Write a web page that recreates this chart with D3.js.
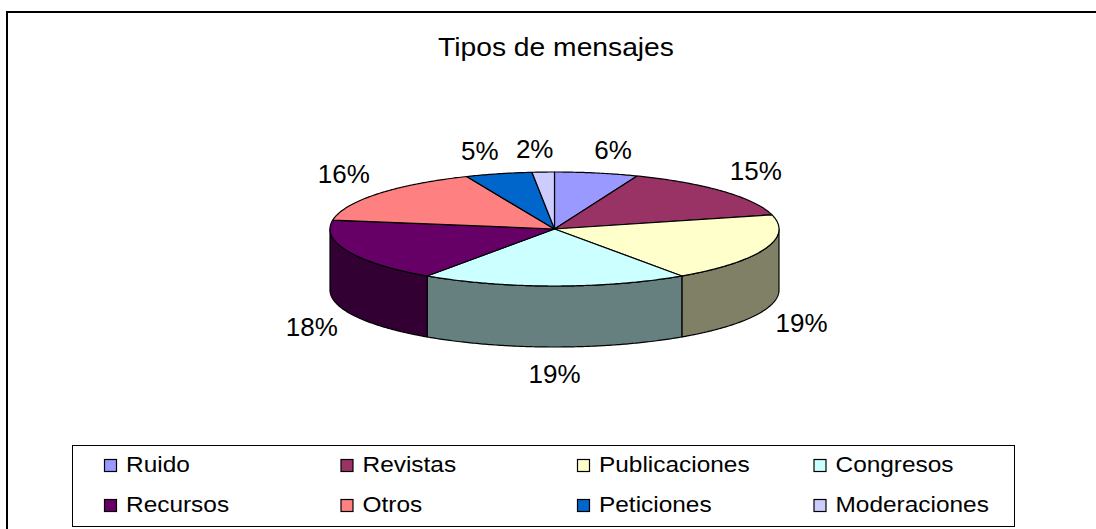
<!DOCTYPE html>
<html>
<head>
<meta charset="utf-8">
<script src="https://cdn.jsdelivr.net/npm/d3@7"></script>
<style>
  body { margin: 0; background: #fff; }
  text { font-family: "Liberation Sans", Arial, sans-serif; fill: #000; }
</style>
</head>
<body>
<div id="chart-area"></div>
<script>
// data
const categories = ["Ruido", "Revistas", "Publicaciones", "Congresos",
                    "Recursos", "Otros", "Peticiones", "Moderaciones"];
const values = [6.0, 15.0, 19.4, 19.2, 17.9, 16.1, 4.8, 1.6];
const colors = ["#9999FF", "#993366", "#FFFFCC", "#CCFFFF",
                "#660066", "#FF8080", "#0066CC", "#CCCCFF"];
const title = "Tipos de mensajes";

const width = 1096, height = 529;

// 3d pie geometry
const cx = 554.5, cy = 229, rx = 224.5, ry = 57, depth = 61;

let svg = d3.select("#chart-area")
  .append("svg")
  .attr("width", width)
  .attr("height", height);

svg.append("rect")
  .attr("width", width).attr("height", height)
  .attr("fill", "#fff");

// outer chart frame (runs off the right and bottom edges)
svg.append("rect")
  .attr("x", 7).attr("y", 12)
  .attr("width", width + 20).attr("height", height + 20)
  .attr("fill", "none")
  .attr("stroke", "#000")
  .attr("stroke-width", 2);

// title
svg.append("text")
  .attr("transform", "translate(556,56) scale(1.13,1)")
  .attr("text-anchor", "middle")
  .attr("font-size", "25px")
  .text(title);

let color = d3.scaleOrdinal().domain(categories).range(colors);

let pie = d3.pie().sort(null).value(d => d.value)
  .startAngle(0).endAngle(2 * Math.PI);

let data = categories.map((c, i) => ({ name: c, value: values[i] }));
let arcs = pie(data);
let total = d3.sum(values);
let pct = d3.format(".0%");

// ellipse projection of an angle (0 = top, clockwise)
const px = a => cx + rx * Math.sin(a);
const py = a => cy - ry * Math.cos(a);

const line = d3.line();

function rim(a0, a1, dy) {
  let n = Math.max(2, Math.ceil(Math.abs(a1 - a0) / 0.01));
  return d3.range(n + 1).map(k => {
    let a = a0 + (a1 - a0) * k / n;
    return [px(a), py(a) + dy];
  });
}

function darker(c) {
  let r = d3.rgb(c);
  return d3.rgb(r.r * 0.5, r.g * 0.5, r.b * 0.5).formatHex();
}

// side walls (front half only: angles between PI/2 and 3PI/2)
arcs.forEach(d => {
  let a0 = Math.max(d.startAngle, Math.PI / 2);
  let a1 = Math.min(d.endAngle, 3 * Math.PI / 2);
  if (a1 <= a0) return;
  let pts = rim(a0, a1, 0).concat(rim(a1, a0, depth));
  svg.append("path")
    .attr("d", line(pts) + "Z")
    .attr("fill", darker(color(d.data.name)))
    .attr("stroke", "#000")
    .attr("stroke-width", 1.2)
    .attr("stroke-linejoin", "round");
});

// top faces
arcs.forEach(d => {
  let pts = [[cx, cy]].concat(rim(d.startAngle, d.endAngle, 0));
  svg.append("path")
    .attr("d", line(pts) + "Z")
    .attr("fill", color(d.data.name))
    .attr("stroke", "#000")
    .attr("stroke-width", 1.2)
    .attr("stroke-linejoin", "round");
});

// percentage labels, pushed out from the rim at the mid angle
arcs.forEach(d => {
  let a = (d.startAngle + d.endAngle) / 2;
  let s = Math.sin(a), c = Math.cos(a);
  let lx = px(a) + 38 * Math.sign(s) * Math.sqrt(Math.abs(s));
  let ly = c < 0
    ? py(a) + depth + 26 * Math.pow(-c, 0.7)
    : py(a) - 24 * Math.pow(c, 0.3);
  svg.append("text")
    .attr("x", lx)
    .attr("y", ly + 9.5)
    .attr("text-anchor", "middle")
    .attr("font-size", "26px")
    .text(pct(d.data.value / total));
});

// legend
let legend = svg.append("g");
legend.append("rect")
  .attr("x", 72.5).attr("y", 445.5)
  .attr("width", 942).attr("height", 81)
  .attr("fill", "#fff")
  .attr("stroke", "#000")
  .attr("stroke-width", 1);

let colX = d3.scaleLinear().domain([0, 1]).range([104, 340.5]);
let rowY = d3.scaleLinear().domain([0, 1]).range([459, 499]);

categories.forEach((c, i) => {
  let col = i % 4, row = Math.floor(i / 4);
  let x = colX(col), y = rowY(row);
  legend.append("rect")
    .attr("x", x + 0.5).attr("y", y + 0.5)
    .attr("width", 12).attr("height", 12)
    .attr("fill", color(c))
    .attr("stroke", "#000")
    .attr("stroke-width", 1.2);
  legend.append("text")
    .attr("transform", "translate(" + (x + 22) + "," + (y + 12.5) + ") scale(1.11,1)")
    .attr("font-size", "22px")
    .text(c);
});
</script>
</body>
</html>
